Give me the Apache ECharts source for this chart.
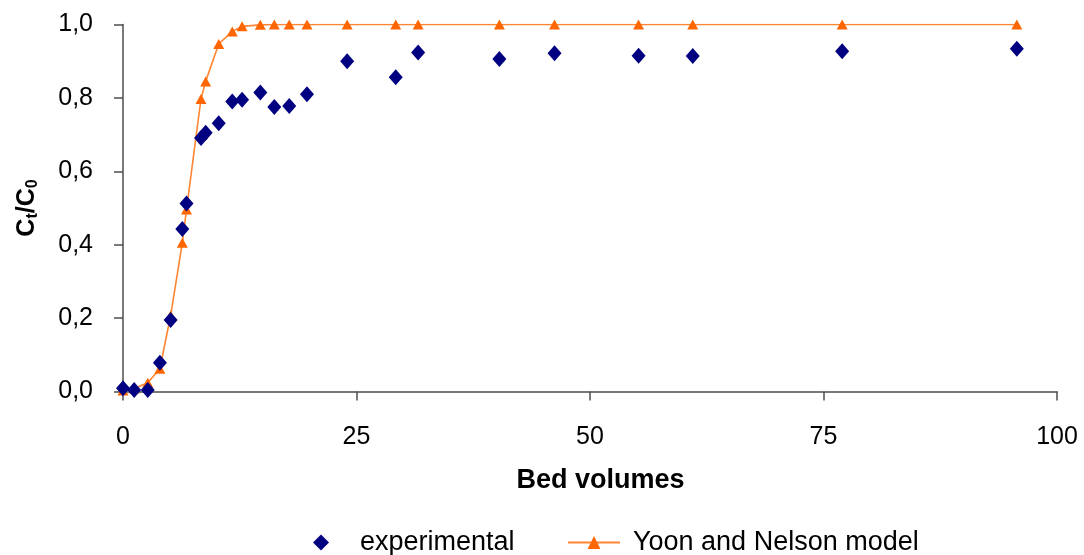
<!DOCTYPE html>
<html>
<head>
<meta charset="utf-8">
<script src="https://cdn.jsdelivr.net/npm/echarts@6/dist/echarts.min.js"></script>
<style>
html,body{margin:0;padding:0;background:#fff;}
#chart{width:1084px;height:555px;}
</style>
</head>
<body>
<div id="chart"></div>
<script>
const bedVolumes = [0, 1.2, 2.65, 3.95, 5.1, 6.35, 6.8, 8.35, 8.85, 10.25, 11.7, 12.75, 14.7, 16.2, 17.8, 19.7, 24.0, 29.2, 31.6, 40.3, 46.2, 55.2, 61.0, 77.0, 95.7];
const experimental = [0.009, 0.004, 0.004, 0.078, 0.195, 0.443, 0.512, 0.691, 0.705, 0.731, 0.790, 0.795, 0.815, 0.775, 0.778, 0.810, 0.900, 0.856, 0.924, 0.906, 0.922, 0.915, 0.914, 0.927, 0.934];
const yoonNelson = [0.003, 0.008, 0.024, 0.062, 0.207, 0.405, 0.496, 0.797, 0.845, 0.947, 0.981, 0.995, 0.999, 1, 1, 1, 1, 1, 1, 1, 1, 1, 1, 1, 1];
const xTicks = [0, 25, 50, 75, 100];
const yTicks = [0, 0.2, 0.4, 0.6, 0.8, 1.0];

const expData = bedVolumes.map((x, i) => [x, experimental[i]]);
const modelData = bedVolumes.map((x, i) => [x, yoonNelson[i]]);

const chart = echarts.init(document.getElementById('chart'), null, {renderer: 'canvas'});
const FONT = 'Liberation Sans, Arial, sans-serif';
const axisColor = '#4d4d4d';

chart.setOption({
  animation: false,
  backgroundColor: '#ffffff',
  textStyle: {fontFamily: FONT},
  grid: {left: 123, right: 27, top: 24.5, bottom: 163.5, containLabel: false},
  xAxis: {
    type: 'value',
    min: xTicks[0], max: xTicks[xTicks.length - 1], interval: 25,
    name: 'Bed volumes',
    nameLocation: 'middle',
    nameGap: 76,
    nameTextStyle: {fontFamily: FONT, fontSize: 27, fontWeight: 'bold', color: '#000', padding: [0, 0, 0, 21]},
    axisLine: {show: true, onZero: false, lineStyle: {color: axisColor, width: 1.5}},
    axisTick: {show: true, inside: false, length: 9, lineStyle: {color: axisColor, width: 1.5}},
    axisLabel: {fontFamily: FONT, fontSize: 25, color: '#000', margin: 33},
    splitLine: {show: false}
  },
  yAxis: {
    type: 'value',
    min: yTicks[0], max: yTicks[yTicks.length - 1], interval: 0.2,
    name: 'C{s|t}/C{s|0}',
    nameLocation: 'middle',
    nameGap: 82,
    nameRotate: 90,
    nameTextStyle: {
      fontFamily: FONT, fontSize: 25, fontWeight: 'bold', color: '#000',
      rich: {
        s: {fontFamily: FONT, fontSize: 16, fontWeight: 'bold', color: '#000', padding: [12, 0, 0, 0], verticalAlign: 'top'}
      }
    },
    axisLine: {show: true, onZero: false, lineStyle: {color: axisColor, width: 1.5}},
    axisTick: {show: true, inside: false, length: 9, lineStyle: {color: axisColor, width: 1.5}},
    axisLabel: {fontFamily: FONT, fontSize: 25, color: '#000', margin: 30,
      formatter: v => v.toFixed(1).replace('.', ',')},
    splitLine: {show: false}
  },
  legend: [
    {
      data: ['experimental'],
      left: 308, top: 524,
      itemWidth: 16, itemHeight: 16,
      textStyle: {fontFamily: FONT, fontSize: 27, color: '#000', padding: [0, 0, 0, 26]}
    },
    {
      data: ['Yoon and Nelson model'],
      left: 562, top: 524,
      itemWidth: 52, itemHeight: 16,
      textStyle: {fontFamily: FONT, fontSize: 27, color: '#000', padding: [0, 0, 0, 8]}
    }
  ],
  series: [
    {
      name: 'Yoon and Nelson model',
      type: 'line',
      data: modelData,
      symbol: 'triangle',
      symbolSize: [11, 10],
      showAllSymbol: true,
      lineStyle: {color: '#ff8533', width: 1.6},
      itemStyle: {color: '#ff6600'},
      z: 2
    },
    {
      name: 'experimental',
      type: 'scatter',
      data: expData,
      symbol: 'diamond',
      symbolSize: [14, 16],
      itemStyle: {color: '#000080', opacity: 1},
      z: 3
    }
  ]
});
</script>
</body>
</html>
